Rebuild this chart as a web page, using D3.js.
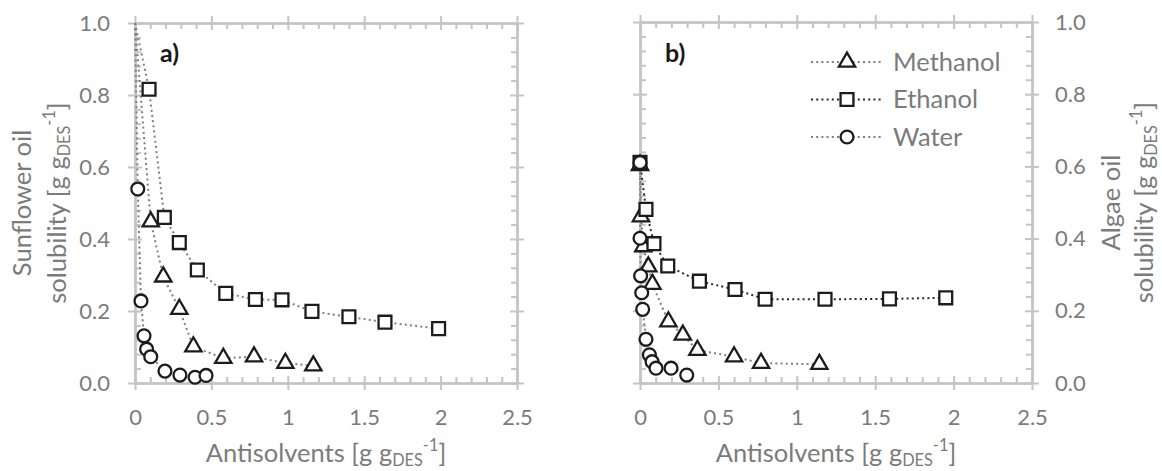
<!DOCTYPE html>
<html><head><meta charset="utf-8">
<script src="https://cdn.jsdelivr.net/npm/d3@7"></script>
<style>
body{margin:0;background:#fff}
svg{display:block}
text{font-family:Lato,'Open Sans',sans-serif}
</style>
</head><body>
<svg id="chart" width="1162" height="471"></svg>
<script>
// ---------- data ----------
const seriesNames = ["Methanol", "Ethanol", "Water"];
const xTickValues = [0, 0.5, 1, 1.5, 2, 2.5];
const yTickValues = [0, 0.2, 0.4, 0.6, 0.8, 1.0];
const xAxisTitle = "Antisolvents";
const leftTitle = "Sunflower oil";
const rightTitle = "Algae oil";
const panelLabels = ["a)", "b)"];

// panel a: sunflower oil (lines start at the pure-DES point)
const sunflowerStart = [0, 1.0];
const sunflowerMethanol = [[0.103,0.448],[0.185,0.295],[0.29,0.205],[0.382,0.101],[0.578,0.069],[0.779,0.073],[0.984,0.055],[1.167,0.048]];
const sunflowerEthanol = [[0.092,0.816],[0.192,0.460],[0.29,0.39],[0.408,0.314],[0.594,0.249],[0.788,0.232],[0.962,0.231],[1.158,0.199],[1.40,0.184],[1.636,0.169],[1.987,0.151]];
const sunflowerWater = [[0.018,0.539],[0.039,0.228],[0.059,0.131],[0.076,0.094],[0.103,0.073],[0.196,0.033],[0.294,0.022],[0.393,0.016],[0.465,0.021]];

// panel b: algae oil
const algaeMethanol = [[0,0.603],[0.006,0.461],[0.021,0.378],[0.053,0.322],[0.079,0.274],[0.181,0.170],[0.273,0.133],[0.366,0.091],[0.60,0.073],[0.772,0.055],[1.144,0.052]];
const algaeEthanol = [[0,0.611],[0.038,0.481],[0.089,0.386],[0.177,0.324],[0.379,0.282],[0.606,0.259],[0.798,0.232],[1.18,0.232],[1.591,0.233],[1.95,0.236]];
const algaeWater = [[0,0.611],[0,0.401],[0.004,0.297],[0.011,0.250],[0.017,0.204],[0.038,0.121],[0.06,0.078],[0.077,0.059],[0.102,0.041],[0.198,0.041],[0.298,0.022]];

// ---------- styles ----------
const axisColor = "#c4c4c4";
const textColor = "#7b7b7b";
const markerStroke = "#1c1c1c";
const lineGray = "#7f7f7f";
const lineDark = "#2a2a2a";
const tickFont = 22;
const titleFont = 25.5;
const symbols = {Methanol: d3.symbolTriangle, Ethanol: d3.symbolSquare, Water: d3.symbolCircle};
const symbolSize = {Methanol: 115, Ethanol: 165, Water: 130};

const svg = d3.select("#chart");

function styleAxis(sel) {
  sel.selectAll("path.domain").attr("stroke", axisColor).attr("stroke-width", 2);
  sel.selectAll(".tick line").attr("stroke", axisColor).attr("stroke-width", 2);
  sel.selectAll("text").attr("fill", textColor).attr("font-size", tickFont).attr("font-family", "Lato,'Open Sans',sans-serif");
}

function frame(x, y, leftLabels, rightLabels) {
  const [x0, x1] = x.range();
  const [y0, y1] = y.range();
  const xMinor = d3.range(0, 2.5001, 0.1).filter(v => !xTickValues.some(t => Math.abs(t - v) < 1e-6));
  const yMinor = d3.range(0, 1.0001, 0.04).filter(v => !yTickValues.some(t => Math.abs(t - v) < 1e-6));
  const fmtX = d3.format("~g");
  const fmtY = d3.format(".1f");
  const g = svg.append("g");
  const add = (tr, axis) => g.append("g").attr("transform", tr).call(axis).call(styleAxis);

  // bottom
  const b = add(`translate(0,${y0})`, d3.axisBottom(x).tickValues(xTickValues).tickSize(7).tickSizeOuter(0).tickFormat(fmtX));
  b.selectAll("text").attr("y", 42).attr("dy", null);
  add(`translate(0,${y0})`, d3.axisTop(x).tickValues(xTickValues).tickSize(7).tickSizeOuter(0).tickFormat(""));
  add(`translate(0,${y0})`, d3.axisTop(x).tickValues(xMinor).tickSize(6).tickSizeOuter(0).tickFormat(""));
  // top
  add(`translate(0,${y1})`, d3.axisTop(x).tickValues(xTickValues).tickSize(7).tickSizeOuter(0).tickFormat(""));
  add(`translate(0,${y1})`, d3.axisBottom(x).tickValues(xTickValues).tickSize(7).tickSizeOuter(0).tickFormat(""));
  add(`translate(0,${y1})`, d3.axisBottom(x).tickValues(xMinor).tickSize(6).tickSizeOuter(0).tickFormat(""));
  // left
  add(`translate(${x0},0)`, d3.axisLeft(y).tickValues(yTickValues).tickSize(7).tickSizeOuter(0).tickPadding(18).tickFormat(leftLabels ? fmtY : ""));
  add(`translate(${x0},0)`, d3.axisRight(y).tickValues(yTickValues).tickSize(7).tickSizeOuter(0).tickFormat(""));
  add(`translate(${x0},0)`, d3.axisRight(y).tickValues(yMinor).tickSize(6).tickSizeOuter(0).tickFormat(""));
  // right
  add(`translate(${x1},0)`, d3.axisRight(y).tickValues(yTickValues).tickSize(7).tickSizeOuter(0).tickPadding(16).tickFormat(rightLabels ? fmtY : ""));
  add(`translate(${x1},0)`, d3.axisLeft(y).tickValues(yTickValues).tickSize(7).tickSizeOuter(0).tickFormat(""));
  add(`translate(${x1},0)`, d3.axisLeft(y).tickValues(yMinor).tickSize(6).tickSizeOuter(0).tickFormat(""));
}

// text with "[g g_DES^-1]"
function unitText(sel, main, size) {
  sel.append("tspan").text(main + " [g g");
  sel.append("tspan").attr("font-size", size * 0.64).attr("dy", size * 0.14).text("DES");
  sel.append("tspan").attr("font-size", size * 0.64).attr("dy", -size * 0.56).text("-1");
  sel.append("tspan").attr("dy", size * 0.42).text("]");
}

function drawSeries(x, y, data, start, ethanolDark) {
  const line = d3.line().x(d => x(d[0])).y(d => y(d[1]));
  const g = svg.append("g");
  seriesNames.forEach((name, i) => {
    const pts = data[i];
    const path = start ? [start, ...pts] : pts;
    g.append("path").attr("d", line(path)).attr("fill", "none")
      .attr("stroke", (ethanolDark && name === "Ethanol") ? lineDark : lineGray)
      .attr("stroke-width", 2).attr("stroke-dasharray", "2 3.2");
  });
  seriesNames.forEach((name, i) => {
    g.append("g").selectAll("path").data(data[i]).join("path")
      .attr("d", d3.symbol(symbols[name], symbolSize[name]))
      .attr("transform", d => `translate(${x(d[0])},${y(d[1])})`)
      .attr("fill", "#fff").attr("stroke", markerStroke).attr("stroke-width", 2.3);
  });
}

// ---------- panel a ----------
const xa = d3.scaleLinear().domain([0, 2.5]).range([135, 517]);
const ya = d3.scaleLinear().domain([0, 1]).range([383, 23]);
frame(xa, ya, true, false);
drawSeries(xa, ya, [sunflowerMethanol, sunflowerEthanol, sunflowerWater], sunflowerStart, false);

// ---------- panel b ----------
const xb = d3.scaleLinear().domain([0, 2.5]).range([640, 1032]);
const yb = d3.scaleLinear().domain([0, 1]).range([383, 22]);
frame(xb, yb, false, true);
drawSeries(xb, yb, [algaeMethanol, algaeEthanol, algaeWater], null, true);

// panel letters
svg.append("text").attr("x", 160).attr("y", 62).attr("font-size", 25).attr("font-weight", "bold").attr("fill", "#1a1a1a").text(panelLabels[0]);
svg.append("text").attr("x", 665).attr("y", 62).attr("font-size", 25).attr("font-weight", "bold").attr("fill", "#1a1a1a").text(panelLabels[1]);

// x axis titles
[[xa, ya], [xb, yb]].forEach(([x]) => {
  const cx = d3.mean(x.range());
  const t = svg.append("text").attr("x", cx).attr("y", 462).attr("text-anchor", "middle")
    .attr("font-size", titleFont).attr("fill", textColor);
  unitText(t, xAxisTitle, titleFont);
});

// left y title (panel a)
{
  const cy = d3.mean(ya.range());
  const g = svg.append("g").attr("transform", `translate(0,${cy}) rotate(-90)`);
  g.append("text").attr("x", 0).attr("y", 31).attr("text-anchor", "middle").attr("font-size", titleFont).attr("fill", textColor).text(leftTitle);
  const t = g.append("text").attr("x", 0).attr("y", 66).attr("text-anchor", "middle").attr("font-size", titleFont).attr("fill", textColor);
  unitText(t, "solubility", titleFont);
}
// right y title (panel b)
{
  const cy = d3.mean(yb.range());
  const g = svg.append("g").attr("transform", `translate(0,${cy}) rotate(-90)`);
  g.append("text").attr("x", 0).attr("y", 1120).attr("text-anchor", "middle").attr("font-size", titleFont).attr("fill", textColor).text(rightTitle);
  const t = g.append("text").attr("x", 0).attr("y", 1153).attr("text-anchor", "middle").attr("font-size", titleFont).attr("fill", textColor);
  unitText(t, "solubility", titleFont);
}

// legend
{
  const lg = svg.append("g").attr("transform", "translate(811,62)");
  seriesNames.forEach((name, i) => {
    const row = lg.append("g").attr("transform", `translate(0,${i * 37.5})`);
    row.append("line").attr("x1", 0).attr("x2", 71).attr("y1", 0).attr("y2", 0)
      .attr("stroke", name === "Ethanol" ? lineDark : lineGray).attr("stroke-width", 2).attr("stroke-dasharray", "2 3.2");
    row.append("path").attr("d", d3.symbol(symbols[name], symbolSize[name])).attr("transform", "translate(36,0)")
      .attr("fill", "#fff").attr("stroke", markerStroke).attr("stroke-width", 2.3);
    row.append("text").attr("x", 82).attr("y", 0).attr("dy", "0.35em").attr("font-size", titleFont).attr("fill", textColor).text(name);
  });
}
</script>
</body></html>
